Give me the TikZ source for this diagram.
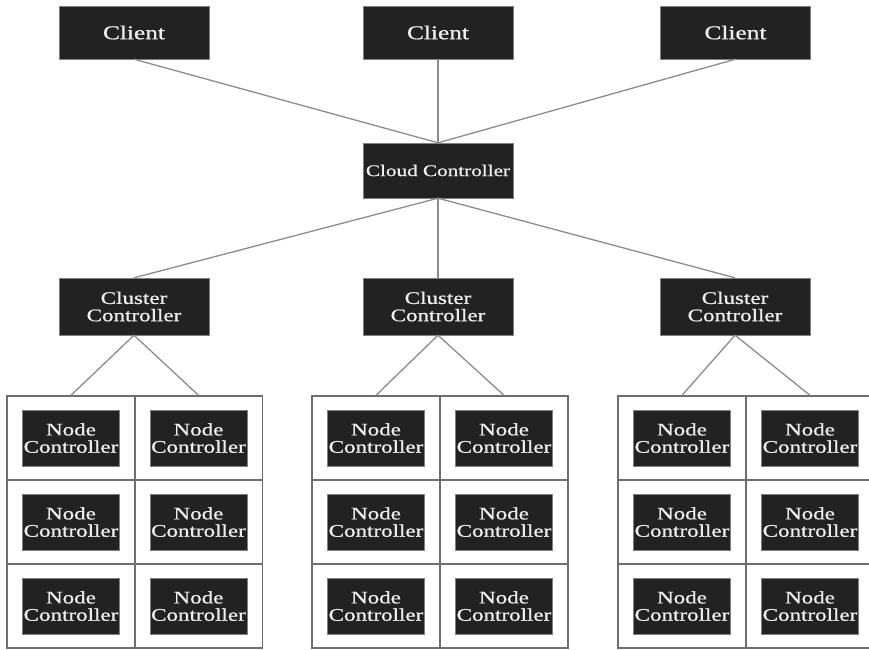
\documentclass[tikz,border=0pt]{standalone}
\usepackage{fontspec}
\newfontfamily\boxfont[FakeStretch=1.3, FakeBold=0.9]{Liberation Serif}
\usepackage{tikz}
\definecolor{boxfill}{HTML}{222222}
\definecolor{boxedge}{HTML}{808080}
\definecolor{linkgray}{HTML}{8C8C8C}
\definecolor{gridgray}{HTML}{6E6E6E}

\begin{document}
\begin{tikzpicture}[%
    x=1pt, y=-1pt,
    ctrl/.style={
      draw=boxedge,
      fill=boxfill,
      text=white!93!black,
      inner sep=0,
      align=center,
      minimum width=150,
      font=\boxfont\fontsize{17.7}{17.3}\selectfont
    }]
    \tikzset{CellStyle/.style = {draw = gridgray, line width = 1.4, minimum width = 128, minimum height = 84, inner sep = 0}}
    \tikzset{NodeStyle/.style = {ctrl, minimum width = 97, minimum height = 56}}
    \tikzset{link/.style = {draw = linkgray, line width = 1.3}}
    \useasboundingbox (0,0) rectangle (869,649);

    % top row
    \node[ctrl, minimum height=53, font=\boxfont\fontsize{19.5}{20}\selectfont] at (134,32.5) (client1) {Client};
    \node[ctrl, minimum height=53, font=\boxfont\fontsize{19.5}{20}\selectfont] at (438,32.5) (client2) {Client};
    \node[ctrl, minimum height=53, font=\boxfont\fontsize{19.5}{20}\selectfont] at (735.5,32.5) (client3) {Client};
    \node[ctrl, minimum height=55, font=\boxfont\fontsize{16.3}{17}\selectfont] at (438,170.5) (cloud) {Cloud Controller};

    % cluster controllers
    \node[ctrl, minimum height=57] at (134,306.5) (cluster1) {Cluster\\Controller};
    \node[ctrl, minimum height=57] at (438,306.5) (cluster2) {Cluster\\Controller};
    \node[ctrl, minimum height=57] at (735,306.5) (cluster3) {Cluster\\Controller};

    % cells
    \node[CellStyle] at (71,438) (a1) {};
    \node[CellStyle] at (198.5,438) (a2) {};
    \node[CellStyle] at (71,522) (a3) {};
    \node[CellStyle] at (198.5,522) (a4) {};
    \node[CellStyle] at (71,606) (a5) {};
    \node[CellStyle] at (198.5,606) (a6) {};
    \node[CellStyle] at (376,438) (b1) {};
    \node[CellStyle] at (504,438) (b2) {};
    \node[CellStyle] at (376,522) (b3) {};
    \node[CellStyle] at (504,522) (b4) {};
    \node[CellStyle] at (376,606) (b5) {};
    \node[CellStyle] at (504,606) (b6) {};
    \node[CellStyle] at (682,438) (c1) {};
    \node[CellStyle] at (810,438) (c2) {};
    \node[CellStyle] at (682,522) (c3) {};
    \node[CellStyle] at (810,522) (c4) {};
    \node[CellStyle] at (682,606) (c5) {};
    \node[CellStyle] at (810,606) (c6) {};

    % node controllers
    \node[NodeStyle] at (a1) (na1) {Node\\Controller};
    \node[NodeStyle] at (a2) (na2) {Node\\Controller};
    \node[NodeStyle] at (a3) (na3) {Node\\Controller};
    \node[NodeStyle] at (a4) (na4) {Node\\Controller};
    \node[NodeStyle] at (a5) (na5) {Node\\Controller};
    \node[NodeStyle] at (a6) (na6) {Node\\Controller};
    \node[NodeStyle] at (b1) (nb1) {Node\\Controller};
    \node[NodeStyle] at (b2) (nb2) {Node\\Controller};
    \node[NodeStyle] at (b3) (nb3) {Node\\Controller};
    \node[NodeStyle] at (b4) (nb4) {Node\\Controller};
    \node[NodeStyle] at (b5) (nb5) {Node\\Controller};
    \node[NodeStyle] at (b6) (nb6) {Node\\Controller};
    \node[NodeStyle] at (c1) (nc1) {Node\\Controller};
    \node[NodeStyle] at (c2) (nc2) {Node\\Controller};
    \node[NodeStyle] at (c3) (nc3) {Node\\Controller};
    \node[NodeStyle] at (c4) (nc4) {Node\\Controller};
    \node[NodeStyle] at (c5) (nc5) {Node\\Controller};
    \node[NodeStyle] at (c6) (nc6) {Node\\Controller};

    \path[link]
        (client1.south) edge (cloud.north)
        (client2.south) edge (cloud.north)
        (client3.south) edge (cloud.north)
        (cloud.south) edge (cluster1.north)
        (cloud.south) edge (cluster2.north)
        (cloud.south) edge (cluster3.north)
        (cluster1.south) edge (a1.north)
        (cluster1.south) edge (a2.north)
        (cluster2.south) edge (b1.north)
        (cluster2.south) edge (b2.north)
        (cluster3.south) edge (c1.north)
        (cluster3.south) edge (c2.north)
        ;
\end{tikzpicture}
\end{document}
